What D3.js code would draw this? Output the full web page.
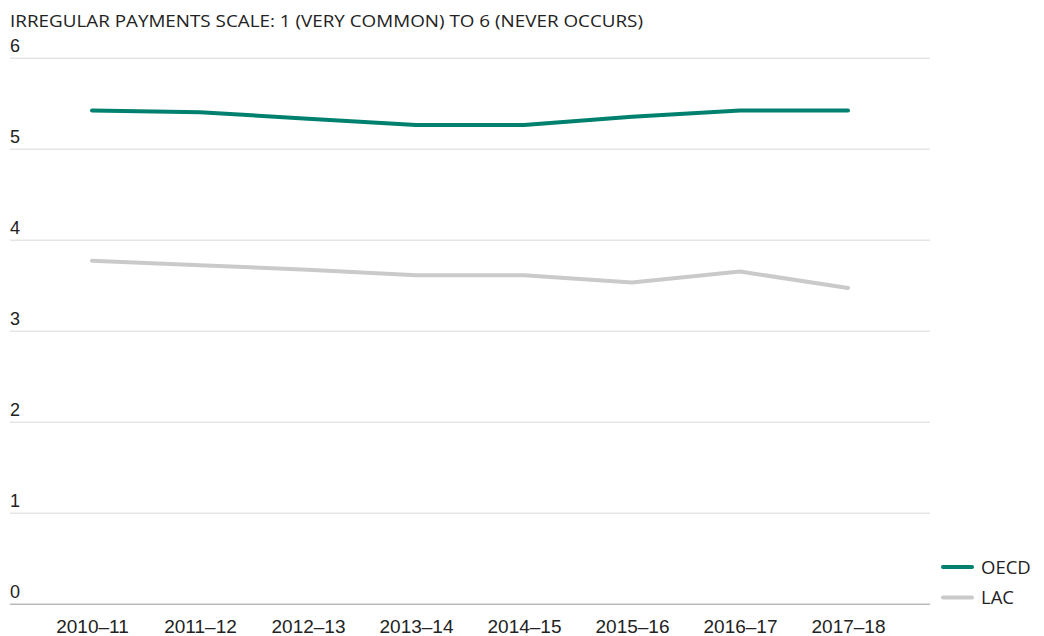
<!DOCTYPE html>
<html>
<head>
<meta charset="utf-8">
<script src="https://cdn.jsdelivr.net/npm/d3@7"></script>
<style>
  body { margin: 0; background: #fff; }
  svg { display: block; font-family: "Open Sans", "Noto Sans", sans-serif; }
</style>
</head>
<body>
<svg id="chart" width="1044" height="636"></svg>
<script>
const periods = ["2010–11", "2011–12", "2012–13", "2013–14", "2014–15", "2015–16", "2016–17", "2017–18"];
const oecd = [5.42, 5.40, 5.33, 5.26, 5.26, 5.35, 5.42, 5.42];
const lac = [3.77, 3.72, 3.67, 3.61, 3.61, 3.53, 3.65, 3.47];
const yTicks = [0, 1, 2, 3, 4, 5, 6];
const seriesNames = ["OECD", "LAC"];
const seriesColors = ["#00806e", "#cacaca"];

const svg = d3.select("#chart");
const plotLeft = 10, plotRight = 930, plotTop = 57.7, plotBottom = 603.7;

const x = d3.scalePoint().domain(periods).range([92, 848]);
const y = d3.scaleLinear().domain([0, 6]).range([plotBottom, plotTop]);

// title
svg.append("text")
  .attr("x", 10).attr("y", 27)
  .attr("font-size", 17)
  .attr("fill", "#222")
  .attr("textLength", 633)
  .attr("lengthAdjust", "spacingAndGlyphs")
  .text("IRREGULAR PAYMENTS SCALE: 1 (VERY COMMON) TO 6 (NEVER OCCURS)");

// gridlines + y labels
const gy = svg.append("g")
  .attr("transform", `translate(${plotLeft},0)`)
  .call(d3.axisRight(y).tickValues(yTicks).tickSize(plotRight - plotLeft).tickFormat(d3.format("d")));
gy.select(".domain").remove();
gy.selectAll(".tick line")
  .attr("stroke", d => d === 0 ? "#999" : "#d9d9d9")
  .attr("stroke-width", 1);
gy.selectAll(".tick text")
  .attr("x", 0).attr("y", -6).attr("dy", 0)
  .attr("text-anchor", "start")
  .attr("font-size", 18)
  .attr("fill", "#222");

// x axis labels
const gx = svg.append("g")
  .attr("transform", `translate(0,${plotBottom})`)
  .call(d3.axisBottom(x).tickSize(0));
gx.select(".domain").remove();
gx.selectAll(".tick text")
  .attr("y", 29).attr("dy", 0)
  .attr("font-size", 19)
  .attr("fill", "#222");

// lines
const line = d3.line()
  .x((d, i) => x(periods[i]))
  .y(d => y(d));

[oecd, lac].forEach((vals, k) => {
  svg.append("path")
    .datum(vals)
    .attr("fill", "none")
    .attr("stroke", seriesColors[k])
    .attr("stroke-width", 4)
    .attr("stroke-linecap", "round")
    .attr("stroke-linejoin", "round")
    .attr("d", line);
});

// legend
const lg = svg.append("g").attr("transform", "translate(943,567)");
seriesNames.forEach((name, i) => {
  const row = lg.append("g").attr("transform", `translate(0,${i * 30.5})`);
  row.append("line")
    .attr("x1", 0).attr("x2", 29)
    .attr("stroke", seriesColors[i])
    .attr("stroke-width", 4)
    .attr("stroke-linecap", "round");
  row.append("text")
    .attr("x", 38).attr("y", 6.5)
    .attr("font-size", 18.5)
    .attr("fill", "#222")
    .text(name);
});
</script>
</body>
</html>
